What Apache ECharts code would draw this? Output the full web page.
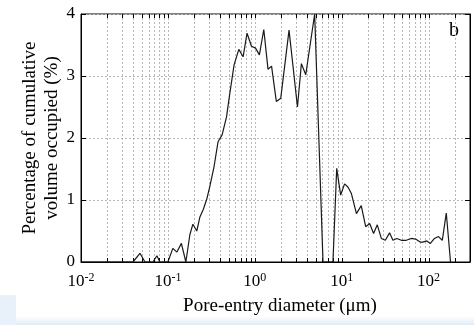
<!DOCTYPE html>
<html>
<head>
<meta charset="utf-8">
<script src="https://cdn.jsdelivr.net/npm/echarts@6/dist/echarts.min.js"></script>
<style>
  html, body { margin: 0; padding: 0; background: #fff; }
  #chart { width: 474px; height: 325px; }
</style>
</head>
<body>
<div id="chart"></div>
<script>
// Pore-entry diameter (µm) and the share of cumulative volume occupied (%)
const diameters = [
  0.01, 0.0396, 0.0477, 0.0545, 0.0673, 0.0748, 0.0809, 0.1, 0.114, 0.127,
  0.143, 0.161, 0.179, 0.194, 0.215, 0.233, 0.256, 0.281, 0.304, 0.340,
  0.378, 0.421, 0.473, 0.516, 0.578, 0.655, 0.734, 0.815, 0.916, 1.02,
  1.13, 1.27, 1.42, 1.56, 1.77, 1.99, 2.48, 3.10, 3.44, 3.86,
  4.89, 6.10, 7.94, 8.77, 9.74, 10.8, 11.8, 12.9, 14.8, 16.8,
  18.9, 21.0, 23.3, 25.7, 28.6, 31.8, 35.6, 38.9, 43.2, 48.6,
  55.4, 63.2, 70.9, 80.9, 85.9, 95.5, 105, 117, 130, 144,
  160, 179
];
const volumePct = [
  0, 0, 0.14, 0, 0, 0.10, 0, 0, 0.22, 0.16,
  0.30, 0, 0.44, 0.61, 0.50, 0.72, 0.85, 1.02, 1.22, 1.54,
  1.94, 2.05, 2.34, 2.72, 3.18, 3.43, 3.31, 3.69, 3.48, 3.45,
  3.34, 3.75, 3.11, 3.16, 2.59, 2.64, 3.74, 2.50, 3.20, 3.02,
  4.00, 0, 0, 1.51, 1.08, 1.26, 1.21, 1.11, 0.78, 0.91,
  0.57, 0.62, 0.46, 0.60, 0.38, 0.35, 0.47, 0.35, 0.38, 0.35,
  0.35, 0.38, 0.37, 0.32, 0.32, 0.34, 0.30, 0.38, 0.41, 0.35,
  0.79, 0
];

// Axis ranges and tick layout
const xMin = 0.01, xMax = 300;
const yTicks = [0, 1, 2, 3, 4];
const decadeExponents = [-2, -1, 0, 1, 2];
const decadeSteps = [1, 2, 3, 4, 5, 6, 7, 8, 9];

// Every 1..9 x 10^n position strictly inside the x range gets a dotted gridline and ticks
const logGridValues = [];
decadeExponents.forEach(function (e) {
  decadeSteps.forEach(function (k) {
    const v = +(k * Math.pow(10, e)).toPrecision(6);
    if (v > xMin && v < xMax) logGridValues.push(v);
  });
});

const serif = '"Liberation Serif", "Times New Roman", serif';

function powerLabel(v) {
  const e = Math.round(Math.log10(v));
  if (Math.abs(v / Math.pow(10, e) - 1) > 1e-6) return '';
  return '{b|10}{s|' + e + '}';
}

const chart = echarts.init(document.getElementById('chart'), null, { renderer: 'canvas' });

chart.setOption({
  animation: false,
  backgroundColor: '#fff',
  grid: {
    left: 81, right: 4, top: 14, bottom: 63,
    show: true, borderColor: '#000', borderWidth: 1, backgroundColor: 'transparent'
  },
  xAxis: {
    type: 'log',
    logBase: 10,
    min: xMin,
    max: xMax,
    name: 'Pore-entry diameter (\u03bcm)',
    nameLocation: 'middle',
    nameGap: 35,
    nameMoveOverlap: false,
    nameTextStyle: { fontFamily: serif, fontSize: 19, color: '#000', padding: [0, 0, 0, 9] },
    axisLine: { show: true, lineStyle: { color: '#000', width: 1 } },
    axisTick: { show: false },
    splitLine: { show: false },
    minorTick: { show: false },
    axisLabel: {
      margin: 10,
      formatter: powerLabel,
      showMaxLabel: false,
      rich: {
        b: { fontFamily: serif, fontSize: 17, color: '#000', lineHeight: 20 },
        s: { fontFamily: serif, fontSize: 12, color: '#000', verticalAlign: 'top', lineHeight: 12 }
      }
    }
  },
  yAxis: [
    {
      type: 'value',
      min: yTicks[0],
      max: yTicks[yTicks.length - 1],
      interval: 1,
      name: 'Percentage of cumulative\nvolume occupied (%)',
      nameLocation: 'middle',
      nameGap: 18,
      nameMoveOverlap: false,
      nameTextStyle: { fontFamily: serif, fontSize: 19, color: '#000', lineHeight: 22 },
      axisLine: { show: true, lineStyle: { color: '#000', width: 1 } },
      axisTick: { show: true, inside: true, length: 5, lineStyle: { color: '#000' } },
      axisLabel: { fontFamily: serif, fontSize: 17, color: '#000', margin: 6 },
      splitLine: { show: true, lineStyle: { color: '#b8b8b8', width: 1, type: [2, 2] } }
    },
    {
      type: 'value',
      position: 'right',
      min: yTicks[0],
      max: yTicks[yTicks.length - 1],
      interval: 1,
      axisLine: { show: true, lineStyle: { color: '#000', width: 1 } },
      axisTick: { show: true, inside: true, length: 5, lineStyle: { color: '#000' } },
      axisLabel: { show: false },
      splitLine: { show: false }
    }
  ],
  graphic: [
    {
      type: 'rect', z: -10, silent: true,
      shape: { x: 0, y: 316, width: 474, height: 9 },
      style: {
        fill: new echarts.graphic.LinearGradient(0, 0, 0, 1, [
          { offset: 0, color: 'rgba(225,236,248,0)' },
          { offset: 1, color: 'rgba(225,236,248,1)' }
        ])
      }
    },
    {
      type: 'rect', z: -10, silent: true,
      shape: { x: 0, y: 295, width: 16, height: 30 },
      style: { fill: 'rgba(232,241,250,1)' }
    },
    {
      type: 'text', left: 449, top: 21, silent: true,
      style: { text: 'b', fontFamily: serif, fontSize: 20, fill: '#000' }
    }
  ],
  series: [
    {
      // dotted log gridlines with inward ticks on the bottom and top edges
      type: 'custom',
      silent: true,
      z: 1,
      xAxisIndex: 0,
      yAxisIndex: 0,
      data: logGridValues.map(function (v) { return [v, 0]; }),
      encode: { x: 0, y: 1 },
      renderItem: function (params, api) {
        const cs = params.coordSys;
        const x = Math.round(api.coord([api.value(0), 0])[0]) + 0.5;
        const top = cs.y, bot = cs.y + cs.height;
        const len = 4;
        return {
          type: 'group',
          children: [
            { type: 'line', shape: { x1: x, y1: top, x2: x, y2: bot },
              style: { stroke: '#b8b8b8', lineWidth: 1, lineDash: [2, 2] } },
            { type: 'line', shape: { x1: x, y1: bot, x2: x, y2: bot - len },
              style: { stroke: '#000', lineWidth: 1 } },
            { type: 'line', shape: { x1: x, y1: top, x2: x, y2: top + len },
              style: { stroke: '#000', lineWidth: 1 } }
          ]
        };
      }
    },
    {
      type: 'line',
      z: 3,
      xAxisIndex: 0,
      yAxisIndex: 0,
      showSymbol: false,
      lineStyle: { color: '#1a1a1a', width: 1.2 },
      data: diameters.map(function (d, i) { return [d, volumePct[i]]; })
    }
  ]
});
</script>
</body>
</html>
